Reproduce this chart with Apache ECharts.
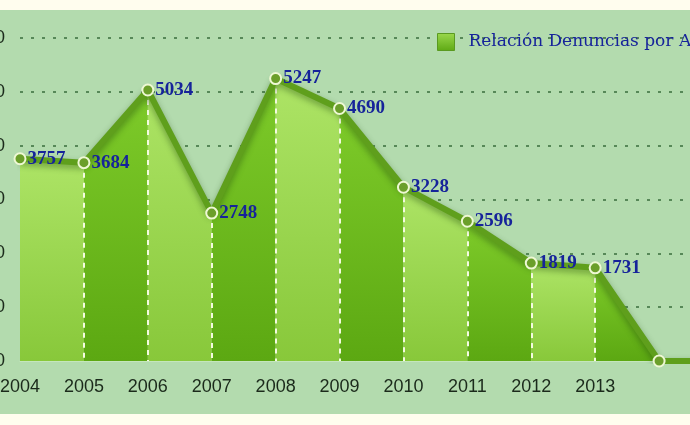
<!DOCTYPE html>
<html>
<head>
<meta charset="utf-8">
<script src="https://cdn.jsdelivr.net/npm/echarts@6/dist/echarts.min.js"></script>
<style>
html, body { margin: 0; padding: 0; background: #fffdee; }
#chart { width: 690px; height: 425px; }
</style>
</head>
<body>
<div id="chart"></div>
<script>
var years = ['2004', '2005', '2006', '2007', '2008', '2009', '2010', '2011', '2012', '2013', '', ''];
var denuncias = [3757, 3684, 5034, 2748, 5247, 4690, 3228, 2596, 1819, 1731, 0, 0];
var serieName = 'Relación Denuncias por Año';

var chartInit = echarts.init(document.getElementById('chart'));

function grad(top, bottom){
	return new echarts.graphic.LinearGradient(0, 0, 0, 1, [
		{ offset: 0, color: top },
		{ offset: 1, color: bottom }
	]);
}

// one area series per segment so the fill alternates light / dark
var series = [];
for (var i = 0; i < denuncias.length - 1; i++) {
	var seg = [];
	for (var j = 0; j < denuncias.length; j++) {
		seg.push((j == i || j == i + 1) ? denuncias[j] : null);
	}
	series.push({
		type: 'line',
		data: seg,
		symbol: 'none',
		silent: true,
		z: 1,
		lineStyle: { width: 0 },
		areaStyle: {
			opacity: 1,
			color: (i % 2 == 0) ? grad('#ade466', '#88c83a') : grad('#7ecb2a', '#5ca812')
		}
	});
}

// dashed white drops under each point
var drops = [];
for (var k = 1; k <= 9; k++) {
	drops.push([{ coord: [k, denuncias[k]] }, { coord: [k, 0] }]);
}

series.push({
	name: serieName,
	type: 'line',
	data: denuncias,
	z: 5,
	symbol: 'circle',
	symbolSize: 11,
	itemStyle: {
		color: '#6b9f2a',
		borderColor: '#eef8d4',
		borderWidth: 2
	},
	lineStyle: {
		color: '#5f9f1c',
		width: 6,
		shadowColor: 'rgba(30, 70, 10, 0.45)',
		shadowBlur: 6,
		shadowOffsetY: 3
	},
	label: {
		show: true,
		position: 'right',
		distance: 1,
		color: '#16239a',
		fontFamily: 'Liberation Serif',
		fontWeight: 'bold',
		fontSize: 19,
		formatter: function(p){
			return p.value ? p.value : '';
		}
	},
	markLine: {
		silent: true,
		symbol: 'none',
		label: { show: false },
		lineStyle: { color: '#f4fbe0', type: [5, 5], width: 2 },
		data: drops
	}
});

var option = {
	animation: false,
	backgroundColor: '#fffdee',
	graphic: [{
		type: 'rect',
		z: -10,
		shape: { x: 0, y: 10, width: 690, height: 404 },
		style: { fill: '#b3dbae' }
	}],
	legend: {
		data: [{
			name: serieName,
			icon: 'rect',
			itemStyle: { color: grad('#9ad84c', '#5ea914'), borderColor: '#5a9a20', borderWidth: 1 }
		}],
		left: 432,
		top: 28,
		itemWidth: 17,
		itemHeight: 17,
		textStyle: {
			color: '#16239a',
			fontFamily: 'DejaVu Serif',
			fontSize: 17,
			padding: [0, 0, 0, 9]
		}
	},
	grid: {
		left: 20,
		top: 38,
		width: 703,
		height: 323,
		containLabel: false,
		outerBoundsMode: 'none'
	},
	xAxis: {
		type: 'category',
		boundaryGap: false,
		data: years,
		axisLine: { show: true, lineStyle: { color: '#c4e6bc', width: 1 } },
		axisTick: { show: false },
		axisLabel: {
			margin: 17,
			color: '#1b2a1b',
			fontFamily: 'Liberation Sans',
			fontSize: 18,
			interval: 0
		},
		splitLine: { show: false }
	},
	yAxis: {
		type: 'value',
		min: 0,
		max: 6000,
		interval: 1000,
		axisLine: { show: false },
		axisTick: { show: false },
		axisLabel: {
			margin: 15,
			color: '#1b2a1b',
			fontFamily: 'Liberation Sans',
			fontSize: 18,
			formatter: '{value}'
		},
		splitLine: {
			lineStyle: { color: '#3a6e3c', type: [3, 8], width: 1.5 }
		}
	},
	series: series
};
chartInit.setOption(option);
</script>
</body>
</html>
